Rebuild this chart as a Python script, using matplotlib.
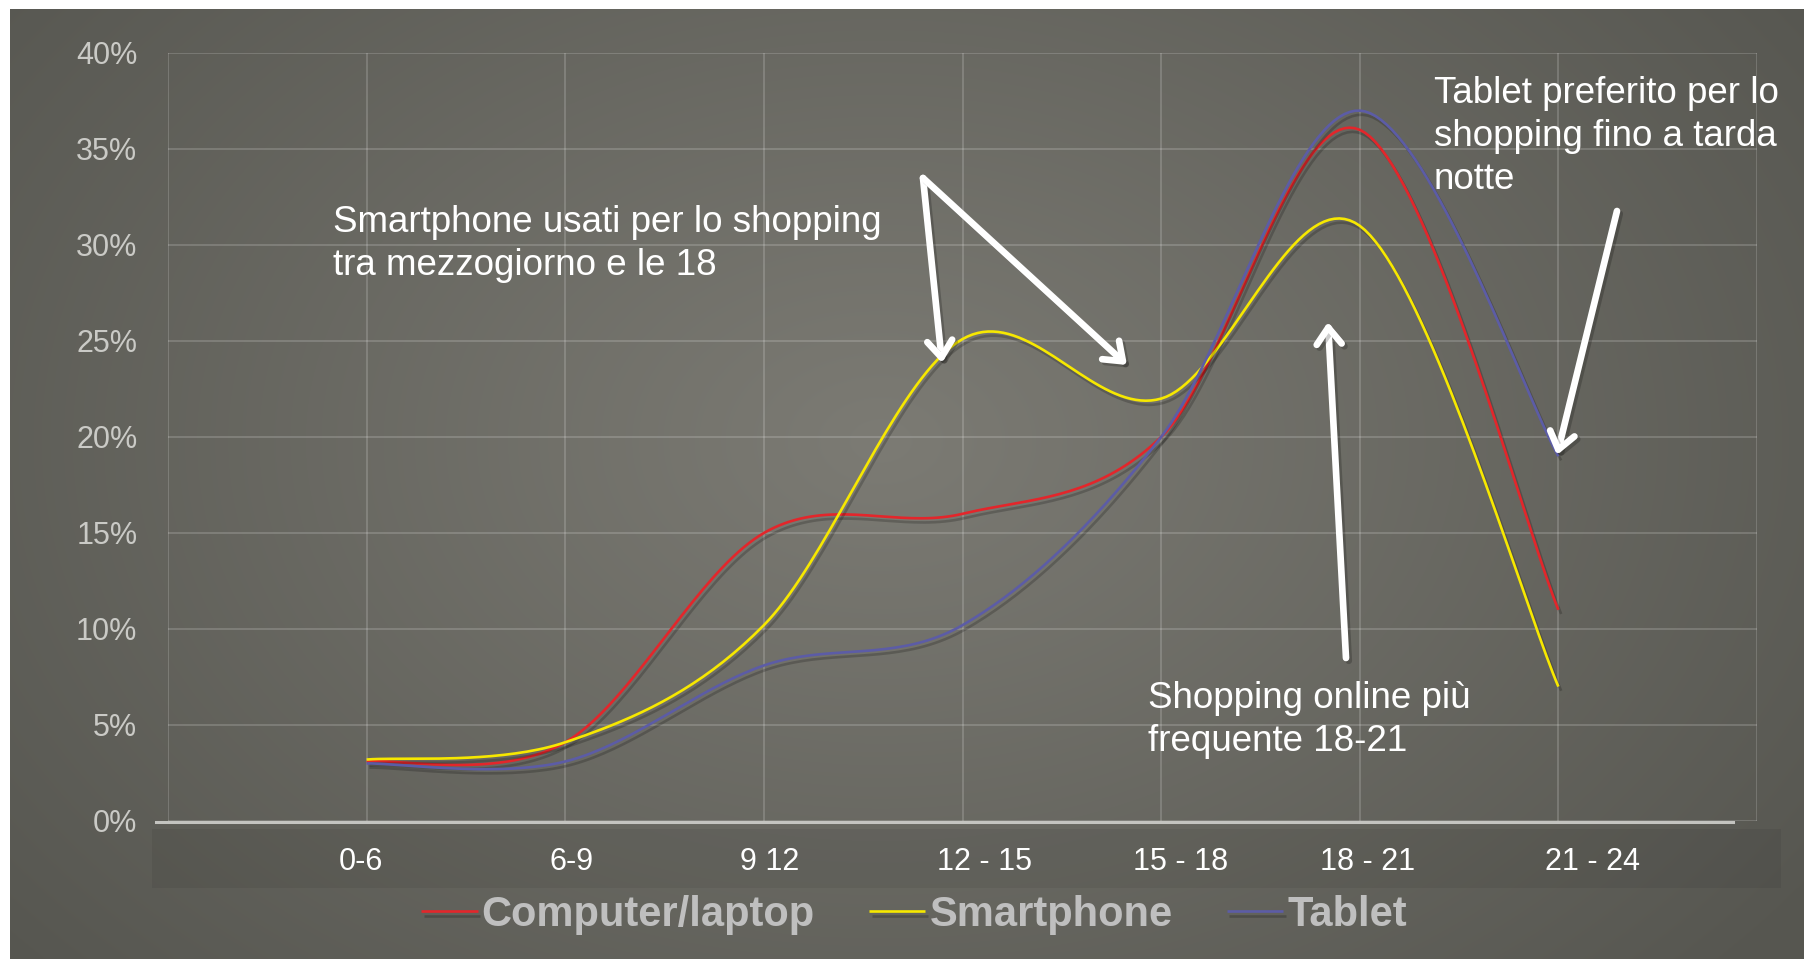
import numpy as np
import matplotlib
matplotlib.use("Agg")
import matplotlib.pyplot as plt
import matplotlib.patheffects as pe
from matplotlib.patches import Rectangle

plt.rcParams['font.family'] = ['Liberation Sans', 'DejaVu Sans']

# data (percent of online shopping by time of day)
fasce = ['0-6', '6-9', '9 12', '12 - 15', '15 - 18', '18 - 21', '21 - 24']
computer = [3.1, 4.1, 15.0, 16.0, 20.0, 36.0, 11.0]
smartphone = [3.2, 4.1, 10.2, 25.1, 22.0, 31.0, 7.0]
tablet = [3.0, 3.1, 8.1, 10.2, 20.0, 37.0, 19.0]
serie = ['Computer/laptop', 'Smartphone', 'Tablet']
colori = ['#e3262b', '#f7e800', '#5c5ca6']

# shifts of the category labels in the label band (they are not centred)
label_shift = [-0.03, 0.03, 0.03, 0.11, 0.10, 0.04, 0.17]

W, H = 1804, 959


def smooth(xs, ys, n=40):
    # excel-like smoothed line: bezier segments, control points from neighbours
    px = np.asarray(xs, float)
    py = np.asarray(ys, float)
    k = len(px)
    mx = np.empty(k)
    my = np.empty(k)
    for i in range(k):
        a = max(i - 1, 0)
        b = min(i + 1, k - 1)
        mx[i] = (px[b] - px[a]) / 2
        my[i] = (py[b] - py[a]) / 2
    t = np.linspace(0, 1, n)[:, None]
    outx, outy = [], []
    for i in range(k - 1):
        cx = [px[i], px[i] + mx[i] / 3, px[i + 1] - mx[i + 1] / 3, px[i + 1]]
        cy = [py[i], py[i] + my[i] / 3, py[i + 1] - my[i + 1] / 3, py[i + 1]]
        bx = ((1 - t) ** 3 * cx[0] + 3 * (1 - t) ** 2 * t * cx[1]
              + 3 * (1 - t) * t ** 2 * cx[2] + t ** 3 * cx[3])
        by = ((1 - t) ** 3 * cy[0] + 3 * (1 - t) ** 2 * t * cy[1]
              + 3 * (1 - t) * t ** 2 * cy[2] + t ** 3 * cy[3])
        outx.append(bx.ravel())
        outy.append(by.ravel())
    return np.concatenate(outx), np.concatenate(outy)


def fp(x, y):
    return (x, H - y)


fig = plt.figure(figsize=(W / 100, H / 100), dpi=100, facecolor='white')

# background with radial gradient
bg = fig.add_axes([0, 0, 1, 1], zorder=-5)
bg.set_xlim(0, W)
bg.set_ylim(H, 0)
bg.axis('off')
gx, gy = np.meshgrid(np.arange(10, W, 2), np.arange(9, H, 2))
r = np.sqrt(((gx - 880) / 1150.0) ** 2 + ((gy - 440) / 800.0) ** 2)
r = np.clip(r, 0, 1)
c0 = np.array([124, 123, 116]) / 255
c1 = np.array([86, 86, 80]) / 255
img = c0[None, None, :] + (c1 - c0)[None, None, :] * r[:, :, None]
bg.imshow(img, extent=(10, W, H, 9), aspect='auto', interpolation='bilinear')
bg.add_patch(Rectangle((152, 829), 1629, 59, facecolor='black', alpha=0.06, lw=0))

ax = fig.add_axes([168 / W, 1 - 821 / H, (1757 - 168) / W, (821 - 53) / H])
ax.patch.set_alpha(0)

x = np.arange(len(fasce))
shadow = [pe.SimpleLineShadow(offset=(2, -3), shadow_color='black', alpha=0.2), pe.Normal()]
for vals, nome, col in zip([computer, smartphone, tablet], serie, colori):
    sx, sy = smooth(x, vals)
    ax.plot(sx, sy, color=col, lw=1.9, label=nome, path_effects=shadow,
            solid_capstyle='butt', zorder=3)

ax.set_xlim(-1, 7)
ax.set_ylim(0, 40)
ax.set_yticks(np.arange(0, 41, 5))
ax.set_yticklabels([f'{v}%' for v in range(0, 41, 5)])
ax.set_xticks(x + np.array(label_shift))
ax.set_xticklabels(fasce)
ax.set_xticks(np.arange(-1, 8), minor=True)
ax.grid(which='minor', axis='x', color='white', alpha=0.17, lw=1.4)
ax.grid(which='major', axis='y', color='white', alpha=0.17, lw=1.4)
ax.tick_params(axis='y', length=0, pad=22, labelsize=22, labelcolor='#cacac6')
ax.tick_params(axis='x', which='both', length=0, pad=18, labelsize=22, labelcolor='white')
for s in ['left', 'right', 'top']:
    ax.spines[s].set_visible(False)
ax.spines['bottom'].set_color('#c4c4c0')
ax.spines['bottom'].set_linewidth(2.2)
ax.spines['bottom'].set_bounds(-1.06, 6.88)
ax.spines['bottom'].set_position(('outward', 1))

# annotations
txt_kw = dict(xycoords='figure pixels', color='white', fontsize=26.5,
              va='top', ha='left', linespacing=1.3)
ax.annotate('Smartphone usati per lo shopping\ntra mezzogiorno e le 18',
            xy=fp(333, 205), **txt_kw)
ax.annotate('Tablet preferito per lo\nshopping fino a tarda\nnotte',
            xy=fp(1434, 76), **txt_kw)
ax.annotate('Shopping online più\nfrequente 18-21', xy=fp(1148, 681), **txt_kw)

arrow_shadow = [pe.SimpleLineShadow(offset=(2, -2), shadow_color='black', alpha=0.2),
                pe.Normal()]
frecce = [((923, 178), (942, 363)), ((923, 178), (1127, 365)),
          ((1346, 658), (1328, 322)), ((1617, 211), (1557, 455))]
for (x0, y0), (x1, y1) in frecce:
    ax.annotate('', xy=fp(x1, y1), xycoords='figure pixels',
                xytext=fp(x0, y0), textcoords='figure pixels',
                arrowprops=dict(arrowstyle='->,head_length=1.0,head_width=0.75',
                                color='white', lw=4.8, shrinkA=0, shrinkB=0,
                                mutation_scale=12, path_effects=arrow_shadow),
                zorder=5)

leg = fig.legend(loc='center', bbox_to_anchor=(914 / W, 44 / H), ncol=3,
                 frameon=False, handlelength=1.35, handletextpad=0.1,
                 columnspacing=1.3, prop={'size': 30, 'weight': 'bold'},
                 labelcolor='#bfbfbf')

fig.savefig('out.png', dpi=100, facecolor='white')
